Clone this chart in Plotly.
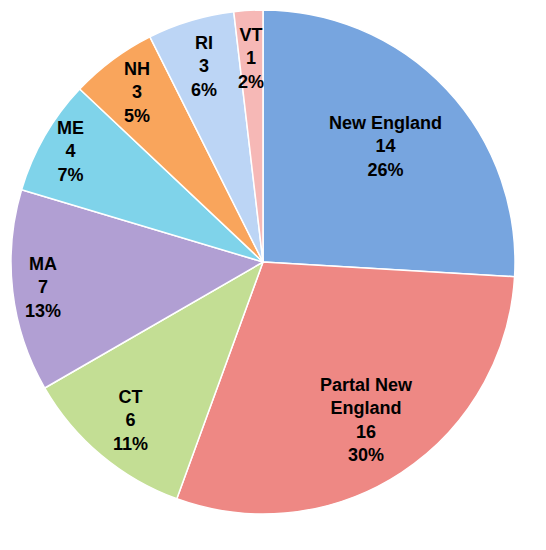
import math
import plotly.graph_objects as go

labels = ["New England", "Partal New England", "CT", "MA", "ME", "NH", "RI", "VT"]
display_labels = ["New England", "Partal New<br>England", "CT", "MA", "ME", "NH", "RI", "VT"]
values = [14, 16, 6, 7, 4, 3, 3, 1]
percents = ["26%", "30%", "11%", "13%", "7%", "5%", "6%", "2%"]
colors = ["#77a5df", "#ee8884", "#c3de94", "#b19fd3", "#7fd3ea", "#f9a55c", "#bcd5f5", "#f6b8b6"]
label_radius_frac = [0.67, 0.75, 0.82, 0.88, 0.88, 0.84, 0.81, 0.81]

W, H = 546, 550
# page body has an 8px default margin; compensate so the pie lands where it should
off = 8
cx, cy, R = 263 - off, 262 - off, 252

fig = go.Figure(go.Pie(
    labels=labels,
    values=values,
    sort=False,
    direction="clockwise",
    rotation=0,
    marker=dict(colors=colors, line=dict(color="white", width=1.5)),
    textinfo="none",
    hoverinfo="label+value+percent",
    showlegend=False,
    domain=dict(x=[(cx - R) / W, (cx + R) / W], y=[(H - cy - R) / H, (H - cy + R) / H]),
))

total = sum(values)
cum = 0
annotations = []
for lab, v, p, f in zip(display_labels, values, percents, label_radius_frac):
    mid = (cum + v / 2) / total * 2 * math.pi
    cum += v
    px = cx + f * R * math.sin(mid)
    py = cy - f * R * math.cos(mid)
    annotations.append(dict(
        x=px / W, y=1 - py / H, xref="paper", yref="paper",
        text=f"{lab}<br>{v}<br>{p}", showarrow=False,
        xanchor="center", yanchor="middle", align="center",
        font=dict(family="Liberation Sans, Arial, sans-serif", size=18, color="black", weight="bold"),
    ))

fig.update_layout(
    width=W, height=H,
    margin=dict(l=0, r=0, t=0, b=0),
    paper_bgcolor="white",
    plot_bgcolor="white",
    annotations=annotations,
)

fig.write_html("out.html")
